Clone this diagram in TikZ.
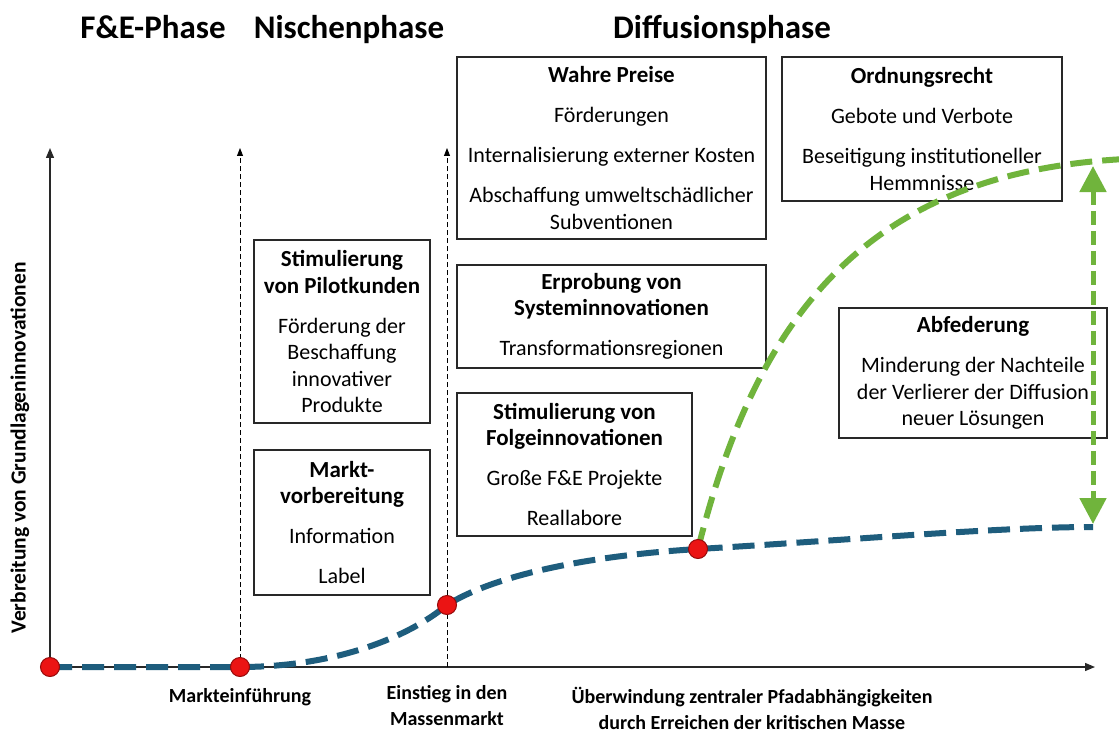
\documentclass[tikz,border=0pt]{standalone}
\usepackage{fontspec}
\setmainfont{Carlito}
\usepackage{tikz}
\usepackage{xcolor}
\usetikzlibrary{arrows.meta}
\definecolor{dpblue}{RGB}{30,93,125}
\definecolor{dpgreen}{RGB}{112,180,60}
\definecolor{dpred}{RGB}{235,20,20}
\definecolor{dpdarkred}{RGB}{150,10,10}
\definecolor{dpline}{RGB}{40,40,40}
\tikzset{
  dpbox/.style={draw=dpline, line width=1.1pt, align=center, inner sep=0pt, font=\fontsize{22}{26.5}\selectfont},
  dphead/.style={font=\fontsize{33}{38}\selectfont\bfseries, anchor=base},
  dplabel/.style={font=\fontsize{20}{26}\selectfont\bfseries, align=center},
  dpaxis/.style={-{Triangle[length=10pt, width=8pt]}, line width=1.3pt, draw=dpline},
  dpguide/.style={-{Triangle[length=8pt, width=6pt]}, line width=.9pt, dash pattern=on 5pt off 3pt, draw=black},
  dpcurve/.style={line width=6pt, dash pattern=on 22pt off 10pt, draw=dpblue},
  dpjump/.style={line width=6pt, dash pattern=on 22pt off 10pt, draw=dpgreen},
  dpdot/.style={circle, fill=dpred, draw=dpdarkred, line width=1pt, minimum size=19pt, inner sep=0pt}
}
\newcommand{\dpgap}{\\[13.5pt]}
\newcommand{\dptitle}[1]{{\fontsize{23}{26.5}\selectfont\bfseries #1}}
\begin{document}
\begin{tikzpicture}[x=1pt, y=-1pt]
  \useasboundingbox[fill=white] (0,0) rectangle (1119,733);
  % phases
  \node[dphead] (fe) at (153,39) {F\&E-Phase};
  \node[dphead] (nische) at (349,39) {Nischenphase};
  \node[dphead] (diff) at (722,39) {Diffusionsphase};
  % axes and guides
  \coordinate (o) at (50,667);
  \coordinate (ytop) at (50,148);
  \coordinate (xend) at (1095,667);
  \coordinate (g1) at (240,667);
  \coordinate (g1top) at (240,148);
  \coordinate (g2) at (447,667);
  \coordinate (g2top) at (447,148);
  \draw[dpaxis] (o) -- (ytop);
  \draw[dpaxis] (o) -- (xend);
  \draw[dpguide] (g1) -- (g1top);
  \draw[dpguide] (g2) -- (g2top);
  \node[dplabel, font=\fontsize{21.5}{26}\selectfont\bfseries, rotate=90] (ylab) at (20,448) {Verbreitung von Grundlageninnovationen};
  \node[dplabel] (lab1) at (240,697) {Markteinführung};
  \node[dplabel] (lab2) at (447,706) {Einstieg in den\\Massenmarkt};
  \node[dplabel] (lab3) at (752,708) {Überwindung zentraler Pfadabhängigkeiten\\durch Erreichen der kritischen Masse};
  % boxes
  \node[dpbox, minimum width=309pt, minimum height=182pt] (preise) at (611.5,148)
    {\dptitle{Wahre Preise}\dpgap Förderungen\dpgap Internalisierung externer Kosten\dpgap Abschaffung umweltschädlicher\\Subventionen};
  \node[dpbox, minimum width=280pt, minimum height=144pt] (ordnung) at (922,129)
    {\dptitle{Ordnungsrecht}\dpgap Gebote und Verbote\dpgap Beseitigung institutioneller\\Hemmnisse};
  \node[dpbox, minimum width=176pt, minimum height=183pt] (pilot) at (342,331.5)
    {\dptitle{Stimulierung}\\\dptitle{von Pilotkunden}\dpgap Förderung der\\Beschaffung\\innovativer\\Produkte};
  \node[dpbox, minimum width=176pt, minimum height=145pt] (markt) at (342,522.5)
    {\dptitle{Markt-}\\\dptitle{vorbereitung}\dpgap Information\dpgap Label};
  \node[dpbox, minimum width=309pt, minimum height=103pt] (erprobung) at (611.5,316.5)
    {\dptitle{Erprobung von}\\\dptitle{Systeminnovationen}\dpgap Transformationsregionen};
  \node[dpbox, minimum width=235pt, minimum height=143pt] (folge) at (574.5,464.5)
    {\dptitle{Stimulierung von}\\\dptitle{Folgeinnovationen}\dpgap Große F\&E Projekte\dpgap Reallabore};
  % diffusion curves
  \coordinate (p1) at (240,667);
  \coordinate (p2) at (447,605);
  \coordinate (p3) at (698,549);
  \coordinate (pend) at (1093,527);
  \coordinate (gend) at (1125,159);
  \draw[dpjump] (p3) .. controls (760,300) and (880,172) .. (gend);
  \draw[dpcurve] (o) -- (p1) .. controls (330,667) and (405,640) .. (p2)
    .. controls (500,572) and (600,555) .. (p3)
    .. controls (850,540) and (1000,527) .. (pend);
  \coordinate (atop) at (1093,166);
  \coordinate (abot) at (1093,524);
  \node[dpbox, fill=none, minimum width=268pt, minimum height=130pt] (abfed) at (973,373)
    {\dptitle{Abfederung}\dpgap Minderung der Nachteile\\der Verlierer der Diffusion\\neuer Lösungen};
  \draw[dpjump, line width=5pt, dash pattern=on 14pt off 6pt, {Triangle[length=26pt, width=26pt]}-{Triangle[length=26pt, width=26pt]}] (atop) -- (abot);
  \foreach \p in {o,p1,p2,p3}
    \node[dpdot] at (\p) {};
\end{tikzpicture}
\end{document}
